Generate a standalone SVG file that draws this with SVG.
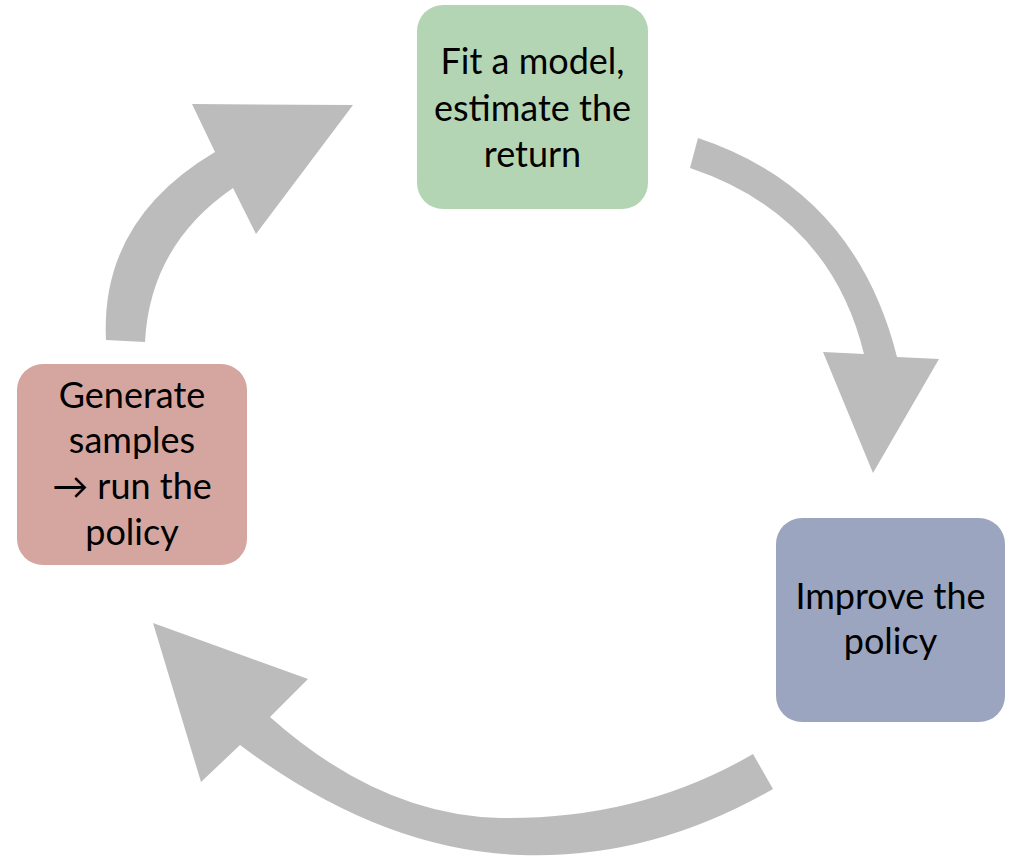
<svg xmlns="http://www.w3.org/2000/svg" width="1015" height="859" viewBox="0 0 1015 859">
  <style>
    .box-green { fill: #b4d5b4; }
    .box-red { fill: #d5a6a0; }
    .box-blue { fill: #9ca5bf; }
    .label { font-family: Lato, "Open Sans", "Liberation Sans", sans-serif; font-size: 36px; fill: #000; text-anchor: middle; }
    .flow { fill: #bcbcbc; stroke: none; }
  </style>
  <rect width="1015" height="859" fill="#ffffff"/>

  <!-- Curved block arrows forming the cycle -->
  <g id="connectors">
    <!-- left: samples -> model -->
    <path class="flow" d="M106,340 Q100,220 215,152 L192,104 L353,105 L256,234 L233,188 Q150,245 145,342 Z"/>
    <!-- right: model -> policy improvement -->
    <path class="flow" d="M698,138 Q855,190 897,357 L939,359 L873,473 L823,352 L864,354 Q830,215 690,168 Z"/>
    <!-- bottom: policy improvement -> samples -->
    <path class="flow" d="M753,754 Q640,820 500,818 Q380,815 270,717 L308,679 L153,623 L201,782 L240,745 Q380,850 520,855 Q650,860 773,789 Z"/>
  </g>

  <g id="node-fit">
    <rect class="box-green" x="417" y="5" width="231" height="204" rx="26"/>
    <text class="label" x="532.5" y="74">Fit a model,</text>
    <text class="label" x="532.5" y="120.5">estimate the</text>
    <text class="label" x="532.5" y="167">return</text>
  </g>

  <g id="node-generate">
    <rect class="box-red" x="17" y="364" width="230" height="201" rx="26"/>
    <text class="label" x="132" y="408">Generate</text>
    <text class="label" x="132" y="453">samples</text>
    <text class="label" x="132" y="499">→ run the</text>
    <text class="label" x="132" y="545">policy</text>
  </g>

  <g id="node-improve">
    <rect class="box-blue" x="776" y="518" width="229" height="204" rx="26"/>
    <text class="label" x="890.5" y="609">Improve the</text>
    <text class="label" x="890.5" y="654">policy</text>
  </g>
</svg>
